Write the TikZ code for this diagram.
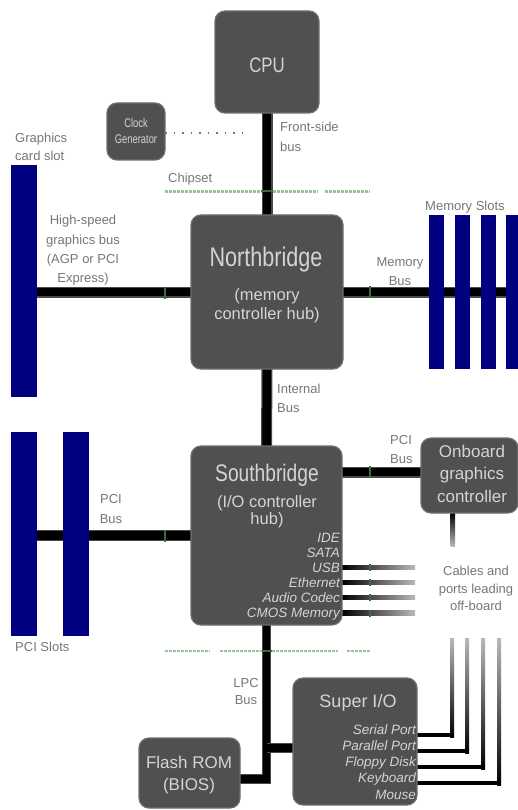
\documentclass[tikz,border=0pt]{standalone}
\usepackage{fontspec}
\setmainfont{Liberation Sans}
\newfontfamily\condfont[FakeStretch=0.8]{Liberation Sans}
\newfontfamily\clockfont[FakeStretch=0.75]{Liberation Sans}
\usetikzlibrary{backgrounds}
\definecolor{boxfill}{HTML}{505050}
\definecolor{boxedge}{HTML}{6E6E6E}
\definecolor{boxtext}{HTML}{D4D4D4}
\definecolor{slotblue}{HTML}{000080}
\definecolor{busedge}{HTML}{4A4A4A}
\definecolor{tickgreen}{HTML}{3F6A3F}
\definecolor{chipgreen}{HTML}{9CC49C}
\definecolor{lblgray}{HTML}{767676}
\begin{document}
\begin{tikzpicture}[x=1pt,y=-1pt,
  box/.style={draw=boxedge, fill=boxfill, line width=1.2pt, rounded corners=10pt, inner sep=0pt, outer sep=0pt},
  slot/.style={fill=slotblue, draw=none, inner sep=0pt, outer sep=0pt},
  bus/.style={line width=8.5pt, draw=black, preaction={draw=busedge, line width=11pt}},
  lpcbus/.style={line width=7.5pt, draw=black, preaction={draw=busedge, line width=9.5pt}},
  tick/.style={draw=tickgreen, line width=2pt},
  chipset/.style={draw=chipgreen, line width=2.5pt, dash pattern=on 2.5pt off 1.5pt},
  clockline/.style={draw=lblgray, line width=1.3pt, dash pattern=on 1.5pt off 7pt},
  boxtxt/.style={text=boxtext, inner sep=0pt, anchor=base},
  lbl/.style={text=lblgray, inner sep=0pt, font=\fontsize{13}{13}\selectfont},
  item/.style={text=boxtext, inner sep=0pt, anchor=base east, font=\itshape\fontsize{13.5}{13.5}\selectfont},
]
\useasboundingbox (0,0) rectangle (518,810);
\clip (0,0) rectangle (518,810);

% ---------- boxes ----------
\node[box, minimum width=104, minimum height=102] (cpu) at (267,62) {};
\node[box, minimum width=58, minimum height=57] (clk) at (136,131.5) {};
\node[box, minimum width=152, minimum height=154] (nb) at (267,292) {};
\node[box, minimum width=151, minimum height=179] (sb) at (266.5,535.5) {};
\node[box, minimum width=97, minimum height=75] (og) at (469.5,475.5) {};
\node[box, minimum width=124, minimum height=127] (sio) at (355,741.5) {};
\node[box, minimum width=101, minimum height=70] (fl) at (189.5,773) {};

% ---------- slots ----------
\node[slot, minimum width=26, minimum height=232] (agp) at (24,281) {};
\node[slot, minimum width=26, minimum height=204] (pci1) at (24,534) {};
\node[slot, minimum width=26, minimum height=204] (pci2) at (76,534) {};
\node[slot, minimum width=15, minimum height=154] (mem1) at (436.5,292) {};
\node[slot, minimum width=15, minimum height=154] (mem2) at (462.5,292) {};
\node[slot, minimum width=15, minimum height=154] (mem3) at (488.5,292) {};
\node[slot, minimum width=15, minimum height=154] (mem4) at (513.5,292) {};

% ---------- helper coordinates ----------
\coordinate (memend) at (520,292);
\coordinate (ogy) at (0,472);
\coordinate (flashy) at (0,779);
\coordinate (sioy) at (0,748);
\coordinate (clky) at (0,133);
\coordinate (clkend) at (248,133);

% ---------- buses and lines (behind) ----------
\begin{pgfonlayer}{background}
  \draw[chipset] (165,191.5) -- (318,191.5) (325,191.5) -- (370,191.5);
  \draw[chipset] (165,651) -- (210,651) (220,651) -- (338,651) (347,651) -- (370,651);
  \draw[bus] (cpu.south) -- (nb.north);
  \draw[bus] (nb.west) -- (nb.west -| agp.east);
  \draw[bus] (nb.east) -- (memend);
  \draw[bus] (nb.south) -- (sb.north);
  \draw[bus] (sb.west) -- (sb.west -| pci1.east);
  \draw[bus] (sb.east |- ogy) -- (og.west |- ogy);
  \draw[lpcbus] (sb.south) -- (sb.south |- flashy) -- (fl.east |- flashy);
  \draw[lpcbus] (sb.south |- sioy) -- (sio.west |- sioy);
  \draw[clockline] (clk.east |- clky) -- (clkend);
  % cables leading off-board
  \foreach \yy in {567.5,582.5,597.5,613}
    \shade[left color=black, right color=gray!55] (342,\yy-2.3) rectangle (415,\yy+2.3);
  \shade[top color=black, bottom color=gray!55] (450.5,513) rectangle (455,546);
  \foreach \xx/\yy in {452/735, 467/751, 483/767, 499/783}{
    \shade[top color=gray!55, bottom color=black] (\xx-2,638) rectangle (\xx+2,\yy+2);
    \fill[black] (417,\yy-2) rectangle (\xx+2,\yy+2);
  }
\end{pgfonlayer}

% ---------- chipset boundary ticks ----------
\draw[tick] (165,287) -- (165,299);
\draw[tick] (165,529.5) -- (165,541.5);
\draw[tick] (370,286) -- (370,298);
\draw[tick] (370,466) -- (370,478);
\foreach \yy in {567.5,582.5,597.5,613}
  \draw[tick] (370,\yy-3.5) -- (370,\yy+3.5);
\draw[tick] (261,191.5) -- (273,191.5);
\draw[tick] (262,651) -- (272,651);

% ---------- box texts ----------
\node[boxtxt, font=\condfont\fontsize{21}{21}\selectfont] (cput) at (267,73) {CPU};
\node[boxtxt, font=\clockfont\fontsize{12.5}{12.5}\selectfont] (clkt1) at (136,128) {Clock};
\node[boxtxt, font=\clockfont\fontsize{12.5}{12.5}\selectfont] (clkt2) at (136,144) {Generator};
\node[boxtxt, font=\condfont\fontsize{27}{27}\selectfont] (nbt1) at (266,266) {Northbridge};
\node[boxtxt, font=\fontsize{16.5}{16.5}\selectfont] (nbt2) at (267,300) {(memory};
\node[boxtxt, font=\fontsize{16.5}{16.5}\selectfont] (nbt3) at (267,319) {controller hub)};
\node[boxtxt, font=\condfont\fontsize{24}{24}\selectfont] (sbt1) at (267,481) {Southbridge};
\node[boxtxt, font=\fontsize{16.5}{16.5}\selectfont] (sbt2) at (267,507) {(I/O controller};
\node[boxtxt, font=\fontsize{16.5}{16.5}\selectfont] (sbt3) at (267,524) {hub)};
\node[item] (sbi1) at (340,542) {IDE};
\node[item] (sbi2) at (340,557) {SATA};
\node[item] (sbi3) at (340,572) {USB};
\node[item] (sbi4) at (340,587) {Ethernet};
\node[item] (sbi5) at (340,602) {Audio Codec};
\node[item] (sbi6) at (340,617) {CMOS Memory};
\node[boxtxt, font=\fontsize{17}{17}\selectfont] (ogt1) at (472,457) {Onboard};
\node[boxtxt, font=\fontsize{17}{17}\selectfont] (ogt2) at (472,479) {graphics};
\node[boxtxt, font=\fontsize{17}{17}\selectfont] (ogt3) at (472,502) {controller};
\node[boxtxt, font=\fontsize{18}{18}\selectfont] (siot) at (358,707) {Super I/O};
\node[item] (sioi1) at (416,734) {Serial Port};
\node[item] (sioi2) at (416,750) {Parallel Port};
\node[item] (sioi3) at (416,766) {Floppy Disk};
\node[item] (sioi4) at (416,782.5) {Keyboard};
\node[item] (sioi5) at (416,799) {Mouse};
\node[boxtxt, font=\fontsize{17}{17}\selectfont] (flt1) at (189,768) {Flash ROM};
\node[boxtxt, font=\fontsize{17}{17}\selectfont] (flt2) at (189,790) {(BIOS)};

% ---------- labels ----------
\node[lbl, anchor=base west] (gcs1) at (15,143) {Graphics};
\node[lbl, anchor=base west] (gcs2) at (15,161) {card slot};
\node[lbl, anchor=base west] (fsb1) at (280,132) {Front-side};
\node[lbl, anchor=base west] (fsb2) at (280,152) {bus};
\node[lbl, anchor=base west] (chip) at (168,183) {Chipset};
\node[lbl, anchor=base] (hs1) at (83,225) {High-speed};
\node[lbl, anchor=base] (hs2) at (83,244) {graphics bus};
\node[lbl, anchor=base] (hs3) at (83,263) {(AGP or PCI};
\node[lbl, anchor=base] (hs4) at (83,282) {Express)};
\node[lbl, anchor=base] (mb1) at (400,266) {Memory};
\node[lbl, anchor=base] (mb2) at (400,285) {Bus};
\node[lbl, anchor=base west] (ms) at (425,211) {Memory Slots};
\node[lbl, anchor=base west] (ib1) at (277,393) {Internal};
\node[lbl, anchor=base west] (ib2) at (277,412) {Bus};
\node[lbl, anchor=base] (pb1) at (111,503) {PCI};
\node[lbl, anchor=base] (pb2) at (111,523) {Bus};
\node[lbl, anchor=base west] (ps) at (15,651) {PCI Slots};
\node[lbl, anchor=base west] (pg1) at (390,444) {PCI};
\node[lbl, anchor=base west] (pg2) at (390,463) {Bus};
\node[lbl, anchor=base] (cb1) at (476,575) {Cables and};
\node[lbl, anchor=base] (cb2) at (476,593) {ports leading};
\node[lbl, anchor=base] (cb3) at (476,610) {off-board};
\node[lbl, anchor=base] (lpc1) at (246,687) {LPC};
\node[lbl, anchor=base] (lpc2) at (246,704) {Bus};
\end{tikzpicture}
\end{document}
